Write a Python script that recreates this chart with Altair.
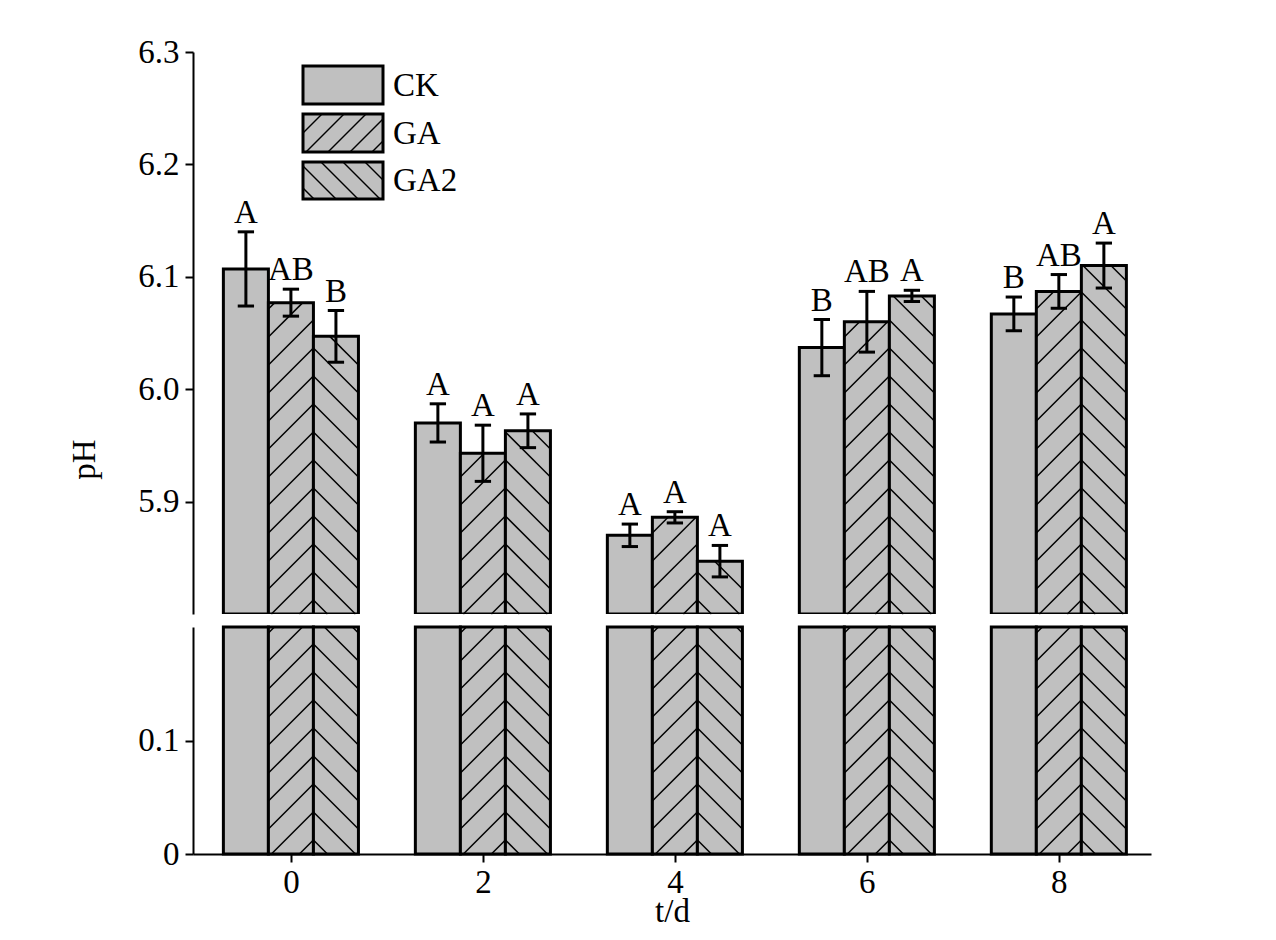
import altair as alt
import pandas as pd
import numpy as np

days = [0, 2, 4, 6, 8]
groups = ["CK", "GA", "GA2"]
ck = [6.107, 5.970, 5.870, 6.037, 6.067]
ga = [6.077, 5.943, 5.886, 6.060, 6.087]
ga2 = [6.047, 5.963, 5.847, 6.083, 6.110]
ck_err = [0.033, 0.017, 0.010, 0.025, 0.015]
ga_err = [0.012, 0.025, 0.005, 0.027, 0.015]
ga2_err = [0.023, 0.015, 0.014, 0.005, 0.020]
ck_lab = ["A", "A", "A", "B", "B"]
ga_lab = ["AB", "A", "A", "AB", "AB"]
ga2_lab = ["B", "A", "A", "A", "A"]

FONT = "Liberation Serif, Times New Roman, serif"
FS = 33
XMIN, XMAX = -1.02, 8.96
W, HT, HB = 958, 562, 227
BW = 0.469
XD = [XMIN, XMAX]

rows = []
for g, vals, errs, labs, off, hs in [("CK", ck, ck_err, ck_lab, -BW, 0),
                                     ("GA", ga, ga_err, ga_lab, 0, 1),
                                     ("GA2", ga2, ga2_err, ga2_lab, BW, -1)]:
    for d, v, e, l in zip(days, vals, errs, labs):
        c = d + off
        rows.append(dict(g=g, day=d, v=v, e=e, lab=l, x0=c - BW / 2, x1=c + BW / 2, xc=c,
                         lo=v - e, hi=v + e, c0=c - 0.085, c1=c + 0.085, hs=hs, base=5.8, b0=0, b1=0.2))
df = pd.DataFrame(rows)

def segs(xl, xr, yb, yt, sign, sp=28):
    out = []
    if sign > 0:
        c = yb - xr + sp / 2
        while c < yt - xl:
            xs, xe = max(xl, yb - c), min(xr, yt - c)
            if xe > xs:
                out.append((xs, xs + c, xe, xe + c))
            c += sp
    else:
        c = xl + yb + sp / 2
        while c < xr + yt:
            xs, xe = max(xl, c - yt), min(xr, c - yb)
            if xe > xs:
                out.append((xs, -xs + c, xe, -xe + c))
            c += sp
    return out

xpx = lambda x: (x - XMIN) / (XMAX - XMIN) * W
xdat = lambda p: XMIN + p / W * (XMAX - XMIN)
top_rows, bot_rows = [], []
for r in rows:
    if r["hs"] == 0:
        continue
    xl, xr = xpx(r["x0"]), xpx(r["x1"])
    for s in segs(xl, xr, 0, (r["v"] - 5.8) / 0.5 * HT, r["hs"]):
        top_rows.append(dict(xa=xdat(s[0]), ya=5.8 + s[1] / HT * 0.5, xb=xdat(s[2]), yb=5.8 + s[3] / HT * 0.5))
    for s in segs(xl, xr, 0, HB, r["hs"]):
        bot_rows.append(dict(xa=xdat(s[0]), ya=s[1] / HB * 0.2, xb=xdat(s[2]), yb=s[3] / HB * 0.2))
htop = pd.DataFrame(top_rows)
hbot = pd.DataFrame(bot_rows)

leg = pd.DataFrame(dict(g=groups, lx0=[110] * 3, lx1=[190] * 3, ly0=[14, 62, 110], ly1=[52, 100, 147],
                        tx=[200] * 3, ty=[34, 82, 129], hs=[0, 1, -1]))
lrows = []
for _, r in leg.iterrows():
    if r.hs == 0:
        continue
    for s in segs(r.lx0, r.lx1, -r.ly1, -r.ly0, r.hs, 22):
        lrows.append(dict(xa=s[0], ya=-s[1], xb=s[2], yb=-s[3]))
lh = pd.DataFrame(lrows)

xs = alt.Scale(domain=XD, nice=False, zero=False)
ys_top = alt.Scale(domain=[5.8, 6.3], nice=False, zero=False)
ys_bot = alt.Scale(domain=[0, 0.2], nice=False)

base = alt.Chart(df)
bars_t = base.mark_rect(fill="#c0c0c0", stroke="black", strokeWidth=3, clip=True).encode(
    x=alt.X("x0:Q", scale=xs, axis=None), x2="x1",
    y=alt.Y("base:Q", scale=ys_top, axis=alt.Axis(values=[5.9, 6.0, 6.1, 6.2, 6.3], format=".1f", title="pH",
            grid=False, labelFont=FONT, labelFontSize=FS, labelColor="black", titleFont=FONT, titleFontSize=FS,
            titleFontWeight="normal", titleColor="black", domainColor="black", domainWidth=2, tickColor="black",
            tickWidth=2, tickSize=8, titleY=407, titleX=-92, labelPadding=6)),
    y2="v")
hat_t = alt.Chart(htop).mark_rule(color="black", strokeWidth=1.5).encode(
    x=alt.X("xa:Q", scale=xs), x2="xb", y=alt.Y("ya:Q", scale=ys_top), y2="yb")
err_t = base.mark_rule(color="black", strokeWidth=3).encode(
    x=alt.X("xc:Q", scale=xs), y=alt.Y("lo:Q", scale=ys_top), y2="hi")
cap_lo = base.mark_rule(color="black", strokeWidth=3).encode(
    x=alt.X("c0:Q", scale=xs), x2="c1", y=alt.Y("lo:Q", scale=ys_top))
cap_hi = base.mark_rule(color="black", strokeWidth=3).encode(
    x=alt.X("c0:Q", scale=xs), x2="c1", y=alt.Y("hi:Q", scale=ys_top))
txt = base.mark_text(font=FONT, fontSize=FS, baseline="bottom", dy=-2, color="black").encode(
    x=alt.X("xc:Q", scale=xs), y=alt.Y("hi:Q", scale=ys_top), text="lab")
lb = alt.Chart(leg).mark_rect(fill="#c0c0c0", stroke="black", strokeWidth=3).encode(
    x=alt.X("lx0:Q", scale=None), x2="lx1", y=alt.Y("ly0:Q", scale=None), y2="ly1")
lhr = alt.Chart(lh).mark_rule(color="black", strokeWidth=1.5).encode(
    x=alt.X("xa:Q", scale=None), x2="xb", y=alt.Y("ya:Q", scale=None), y2="yb")
lt = alt.Chart(leg).mark_text(font=FONT, fontSize=FS, align="left", baseline="middle", color="black").encode(
    x=alt.X("tx:Q", scale=None), y=alt.Y("ty:Q", scale=None), text="g")
top = alt.layer(bars_t, hat_t, err_t, cap_lo, cap_hi, txt, lb, lhr, lt).properties(width=W, height=HT)

bars_b = base.mark_rect(fill="#c0c0c0", stroke="black", strokeWidth=3).encode(
    x=alt.X("x0:Q", scale=xs, axis=alt.Axis(values=days, format="d", title="t/d", grid=False, labelFont=FONT,
            labelFontSize=FS, labelColor="black", titleFont=FONT, titleFontSize=FS, titleFontWeight="normal",
            titleColor="black", domainColor="black", domainWidth=2, tickColor="black", tickWidth=2, tickSize=8,
            titlePadding=-4, labelPadding=4)),
    x2="x1",
    y=alt.Y("b0:Q", scale=ys_bot, axis=alt.Axis(values=[0, 0.1], title=None, grid=False, labelFont=FONT,
            labelFontSize=FS, labelColor="black", domainColor="black", domainWidth=2, tickColor="black",
            tickWidth=2, tickSize=8, labelPadding=6, labelExpr="datum.value == 0 ? '0' : format(datum.value, '.1f')")),
    y2="b1")
hat_b = alt.Chart(hbot).mark_rule(color="black", strokeWidth=1.5).encode(
    x=alt.X("xa:Q", scale=xs), x2="xb", y=alt.Y("ya:Q", scale=ys_bot), y2="yb")
bottom = alt.layer(bars_b, hat_b).properties(width=W, height=HB)

chart = alt.vconcat(top, bottom, spacing=10).configure_view(stroke=None).properties(
    padding={"left": 60, "top": 28, "right": 10, "bottom": 5})
chart.save("out.html", embed_options={"renderer": "svg", "actions": False})
